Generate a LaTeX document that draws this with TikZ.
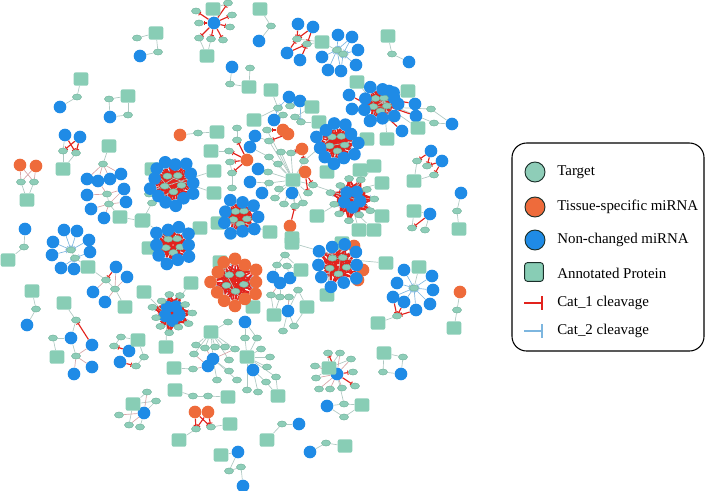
\documentclass[tikz,border=0pt]{standalone}
\usepackage{fontspec}
\setmainfont{Liberation Serif}
\usetikzlibrary{arrows.meta,shapes.geometric}
\pgfdeclarelayer{bg}
\pgfsetlayers{bg,main}
\definecolor{NetTarget}{HTML}{8ECDB8}
\definecolor{NetTargetLine}{HTML}{6DAF98}
\definecolor{NetProtein}{HTML}{88CDB5}
\definecolor{NetBlue}{HTML}{1F8BE6}
\definecolor{NetOrange}{HTML}{EE6B3B}
\definecolor{NetRed}{HTML}{E2231D}
\definecolor{NetSky}{HTML}{7DB6DF}
\definecolor{NetGrey}{HTML}{AFC8C2}
\definecolor{NetPink}{HTML}{D6A4A7}
\definecolor{NetInk}{HTML}{1B2F2A}

% dense miRNA cluster: name, cx, cy, ring count, radius, ring style, core style
\newcommand{\mircluster}[7]{%
  \foreach \k in {1,...,5}
    \node[#7] (#1c\k) at ([shift={(#2,#3)}]{\k*72+15}:{#5*0.42}) {};
  \foreach \i in {1,...,#4}
    \node[#6] (#1r\i) at ([shift={(#2,#3)}]{\i*360/#4}:{#5+2.5*sin(\i*137)}) {};
  \begin{pgfonlayer}{bg}
    \foreach \i in {1,...,#4}{
      \pgfmathtruncatemacro{\ko}{mod(\i+3,#4)+1}
      \draw[cat2] (#1r\i) -- (#1r\ko);
    }
    \foreach \i in {1,...,#4}
      \foreach \k in {1,...,5}
        \draw[cat1,line width=1.1pt] (#1r\i) -- (#1c\k);
    \foreach \k/\m in {1/3, 2/4, 3/5, 4/1, 5/2}
      \draw[cat1,line width=1.1pt] (#1c\k) -- (#1c\m);
  \end{pgfonlayer}
}

\begin{document}
\begin{tikzpicture}[x=0.75pt,y=-0.75pt,
    tgt/.style={ellipse,draw=NetTargetLine,line width=.3pt,fill=NetTarget,
      minimum width=6.8pt,minimum height=4.6pt,inner sep=0pt},
    mirb/.style={circle,fill=NetBlue,minimum size=9.5pt,inner sep=0pt},
    mirt/.style={circle,fill=NetOrange,minimum size=9.5pt,inner sep=0pt},
    prot/.style={rectangle,rounded corners=1.5pt,fill=NetProtein,
      minimum width=11pt,minimum height=10pt,inner sep=0pt},
    edge/.style={draw=NetGrey,line width=.5pt},
    weak/.style={draw=NetPink,line width=.5pt},
    cat1/.style={draw=NetRed,line width=.85pt,-{Bar[width=3.2pt,line width=.7pt]}},
    cat2/.style={draw=NetSky,line width=.5pt,-{Bar[width=3pt,line width=.45pt]}},
    key/.style={circle,draw=NetInk,line width=.7pt,minimum size=15pt,inner sep=0pt},
    keytext/.style={anchor=west,font=\fontsize{11.2}{13}\selectfont,inner sep=0pt}
  ]
  \useasboundingbox (0,0) rectangle (709,490);

  % targets
  \foreach \n/\x/\y in {a1/196/11, a2/199/23, a3/199/38, a4/211/39, a5/223/40, a6/230/27, a7/232/15, a8/228/3,
      b1/137/38, b2/158/52, c1/77/97, d1/109/99, d2/128/115, e1/63/151, e2/76/153, f1/21/182, f2/34/182,
      g1/103/164, g2/107/194, g3/109/204, h1/149/194, h2/152/203,
      i1/24/247, j1/71/250, j2/75/258, k1/106/280, k2/115/289, l1/36/309, m1/76/320, m2/53/338, m3/76/356,
      n1/121/337, n2/114/346, n3/144/357, n4/136/366,
      o1/228/322, o2/196/345, o3/205/348, o4/215/347, o5/225/347, o6/235/349, o7/194/354, o8/193/369,
      o9/229/360, o10/229/371, o11/217/380, o12/237/380,
      p1/193/396, p2/208/396, q1/196/429, q2/211/427,
      r1/147/392, r2/156/401, r3/119/415, r4/129/425, r5/140/427, s1/229/471, s2/241/467,
      t1/245/338, t2/257/338, t3/261/349, t4/270/357, t5/267/367, t6/276/377, t7/266/382, t8/258/392, t9/247/390,
      u1/328/353, u2/340/353, u3/351/359, u4/353/372, u5/355/386, u6/342/388, u7/330/389, u8/319/389,
      u9/316/378, u10/315/366, u11/344/404, u12/344/417,
      v1/403/357, v2/383/372, w1/282/424, x1/326/443, z1/457/310, st0/414/288, st1/397/316,
      ca1/277/265, ca2/285/255, ca3/287/266, ca4/298/290, ca5/271/295, ca6/280/297, ca7/289/297, ca8/283/331, ca9/294/326,
      tb1/271/26, tc1/297/39, tc2/307/44, td1/337/50, td2/343/54, te1/392/54, tf1/250/68, tf2/230/84,
      ts1/278/108, ts2/283/115, ts3/295/117, ts4/301/122, ts5/290/106,
      to1/431/109, to2/434/123, to3/388/118, tg1/417/161, tg2/427/166, tg3/434/175, th1/457/211, ti1/412/228, ti2/425/230,
      hb1/269/183, hb2/279/189, hb3/275/198, hb4/284/204, hb5/295/206, hb6/303/203, hb7/308/193, hb8/313/185,
      hb9/304/161, hb10/291/153, hb11/281/152, hb12/278/164, hb13/268/172, hb14/269/157, hb15/269/141, hb16/267/130,
      lf1/198/133, lf2/237/128, lf3/237/140, lf4/229/151, lf5/230/162, lf6/232/173, lf7/232/188}
    \node[tgt] (\n) at (\x,\y) {};

  % non-changed miRNAs
  \foreach \n/\x/\y in {a0/214/23, bb/140/56, cb/60/107, db/110/117, eb1/65/135, eb2/80/137,
      gb1/87/179, gb2/98/181, gb3/110/179, gb4/121/174, gb5/124/189, gb6/126/202, gb7/87/195, gb8/91/209, gb9/104/218,
      ib/25/229, jb1/64/230, jb2/77/231, jb3/53/242, jb4/89/240, jb5/52/255, jb6/90/252, jb7/61/268, jb8/74/269,
      kb1/116/267, kb2/127/277, kb3/93/292, kb4/105/302, lb/27/325, mb1/71/338, mb2/92/345, mb3/92/367, mb4/74/374,
      nb1/129/351, nb2/120/362, ob1/213/359, ob2/208/366, rb/144/413, sb1/238/452, sb2/243/486,
      tb/253/370, tb0/245/322, ub1/337/374, ub2/327/406, vb/401/374, wb/299/424, xb/310/452,
      stb1/404/270, stb2/397/283, stb3/432/276, stb4/433/290, stb5/430/304, stb6/416/310, stb7/404/302, stb8/393/297,
      cab1/273/277, cab2/280/283, cab3/290/278, cab4/288/311,
      tbb/259/41, tcb1/298/24, tcb2/313/27, tcb3/287/53, tcb4/300/60,
      tdb1/338/35, tdb2/352/37, tdb3/358/50, tdb4/356/65, tdb5/341/71, tdb6/328/70, tdb7/322/57,
      teb/409/62, tfb/232/67, tsb1/289/97, tsb2/300/101, tsb3/274/120,
      hbb1/292/193, hbb2/262/193, hbb3/250/182, hbb4/258/169, hbb5/250/147, hbb6/255/136,
      tob/452/124, tgb1/431/151, tgb2/442/161, thb/461/193, tib/430/214,
      ocb1/349/95, ocb2/352/109, ocb3/370/121, ocb4/415/104, ocb5/416/116, ocb6/402/131,
      ocb7/389/91, ocb8/394/98}
    \node[mirb] (\n) at (\x,\y) {};

  % tissue-specific miRNAs
  \foreach \n/\x/\y in {fo1/20/165, fo2/36/166, qo1/195/412, qo2/208/412, lfo/180/135,
      ho1/283/130, ho2/288/134, ho3/302/149, ho4/305/172, ho5/290/226, ho6/247/160, zo/460/292,
      qmo1/363/270, qmo2/358/280, qmo3/354/246}
    \node[mirt] (\n) at (\x,\y) {};

  % annotated proteins
  \foreach \n/\x/\y in {ap1/213/9, ap2/207/56, bp/156/33, cp/81/79, dp/128/96, ep/63/169, fp/27/200,
      gp1/109/146, gp2/120/217, gp3/142/221, hp1/152/169, hp2/214/171, hp3/214/193,
      ip/8/260, jp/88/267, kp/125/307, lp/32/291, mp1/64/303, mp2/57/357, np/138/340,
      rcp1/144/292, rcp2/191/283, rcp3/166/347, op/211/332, op2/174/368, pp1/175/390, pp2/228/397,
      qp1/230/424, qp2/179/440, rp/133/404, sp/221/455,
      tp/247/357, tp2/278/396, up/329/368, up2/362/405, vp/384/353, wp/267/440, xp/345/446, zp/454/328,
      stp1/419/267, stp2/378/323, cap1/301/270, cap2/307/307, cap3/274/315,
      qcp1/342/243, qcp2/327/295, qcp3/386/263, qcp4/292/243, mcp1/220/262, mcp2/253/307,
      kcp1/218/223, kcp2/270/232, lcp1/200/228, lcp2/149/248, lcp3/143/220,
      tbp/260/9, tcp/322/42, tep/388/36, tfp/249/87, tfp2/271/90, tsp1/312/107, tsp2/319/122, tsp3/254/120,
      ncp1/327/172, ncp2/367/139, ocp1/357/82, ocp2/408/91, ocp3/418/128, ocp4/387/139,
      tgp/414/181, thp/459/229, tip/414/211,
      pcp1/360/170, pcp2/374/166, pcp3/382/183, pcp4/317/216, pcp5/382/216, pcp6/359/230, pcp7/374/230,
      hub/293/180, hubp2/292/238, lfp1/217/132, lfp2/211/151}
    \node[prot] (\n) at (\x,\y) {};

  % dense clusters
  \mircluster{hc}{173}{183}{13}{21}{mirb}{tgt}
  \mircluster{kc}{240}{217}{9}{17}{mirb}{tgt}
  \mircluster{lc}{173}{245}{10}{18}{mirb}{tgt}
  \mircluster{mc}{235}{282}{12}{22}{mirt}{tgt}
  \mircluster{nc}{337}{143}{11}{19}{mirb}{tgt}
  \mircluster{oc}{380}{104}{9}{17}{mirb}{tgt}
  \mircluster{pc}{352}{199}{11}{20}{tgt}{mirb}
  \mircluster{qc}{338}{265}{10}{21}{mirb}{tgt}
  \mircluster{rc}{172}{313}{11}{18}{tgt}{mirb}

  \begin{pgfonlayer}{bg}
    \foreach \a/\b in {ap1/a0, ap2/a3, ap2/a4, a8/ap1, bp/b1, bp/b2, b2/bb, cp/c1, c1/cb,
        d1/dp, dp/d2, d2/db, d1/db, eb1/e1, e1/ep, e2/ep, f1/fp, f2/fp,
        gp1/g1, g2/g3, g3/gp2, gp2/gp3, gp3/h2, hp1/hcc1, hp2/hcc2, hp3/hcc3, h1/hcc4, h2/hcc5, h1/hp1,
        ib/i1, i1/ip, j1/j2, j2/jp, jp/k1, k1/k2, k2/kp, lp/l1, lb/l1,
        mp1/m1, m1/mb1, m2/mp2, m2/mb1, mb1/m3, np/n1, np/n3, n1/n2, n3/n4,
        rcp1/rcc1, rcp2/rcc2, rcp3/rcc3,
        op/o1, op/o2, op/o3, op/o4, op/o5, op/o6, op/o7, op/o9, op/ob1, o10/ob1, o11/ob1, o12/ob1, o8/op2,
        pp1/p1, p1/p2, p2/pp2, q1/qp2, q2/qp1, rp/r1, rp/r2, rp/r4, rb/r2, rb/r5,
        sp/sb1, sb1/s1, s1/s2, s2/sb2,
        tp/t1, tp/t2, tp/t3, tp/t4, tp/t5, tp/t6, tp/t9, tb0/t1, tb0/t2, t6/tp2, t7/tp2, tb/t7, tb/t8,
        up/u1, up/u2, up/u3, up/u9, up/u10, ub1/u11, u11/up2, ub2/u11, ub2/u12, u12/up2,
        vp/v1, v1/vb, vp/v2, v2/vb, w1/wp, w1/wb, xb/x1, x1/xp, zo/z1, z1/zp,
        st0/stp1, st1/stp2,
        cab1/ca1, ca1/ca2, ca2/cap1, ca3/cap1, cab3/ca3, ca4/cap2, cab2/ca6, ca5/cap3, ca6/cap3,
        ca7/cab4, cab4/ca8, cab4/ca9, ca4/cab4, ca9/cap2,
        tbp/tb1, tb1/tbb, tc1/tcp, tc2/tcp, td2/tcp, tep/te1, te1/teb, tfb/tf2, tf1/tfp, tf2/tfp,
        tsp1/ts3, tsp2/ts4, tsp3/ts1, tfp2/ts1,
        ocp1/occ1, ocp2/occ2, ocp3/occ3, ocp4/occ4, to1/tob, to2/tob, to1/occ2, to2/occ3, to3/occ4,
        tg1/tgp, tg3/tgp, thb/th1, th1/thp, tip/ti1, tib/ti2, tip/tib,
        pcp1/pcc1, pcp2/pcc2, pcp3/pcc3, pcp4/pcc4, pcp5/pcc5, pcp6/pcc1, pcp7/pcc2,
        hub/hb1, hub/hb2, hub/hb3, hub/hb4, hub/hb5, hub/hb6, hub/hb7, hub/hb8,
        hub/hb9, hub/hb10, hub/hb11, hub/hb12, hub/hb13, hub/hb14, hub/hb15, hub/hb16,
        hbb1/hb5, hbb2/hb1, hbb3/hb1, hbb4/hb13, hbb5/hb14, hbb6/hb15,
        lfo/lf1, lf1/lfp1, lfp2/lf4, lf2/lf3, lf5/lf6, lf6/lf7,
        kcp1/kcc1, kcp2/kcc2, ho5/hubp2, lcp1/lcc1, lcp2/lcc2, lcp3/lcc3, mcp1/mcc1, mcp2/mcc2,
        ncp1/ncc1, ncp2/ncc2, ncc3/hb9, qcp1/qcc1, qcp2/qcc2, qcp3/qcc3, qcp4/qcc4, pcc5/hb8}
      \draw[edge] (\a) -- (\b);
    \foreach \a/\b in {fo1/f1, fo1/f2, fo2/f1, fo2/f2,
        gb1/g1, gb2/g1, gb3/g1, gb4/g1, gb5/g2, gb6/g3, gb7/g2, gb8/g3, gb9/g3, gb5/g3, gb2/g2,
        kb2/k2, kb3/k1, kb4/k2, kb1/k2, mb3/m3, mb4/m3, mb2/m3,
        ub1/u2, ub1/u3, ub1/u6, ub1/u7, ub1/u8, ub1/u9, ub1/u10,
        rb/r1, rb/r3, rb/r4, ob1/o3, ob2/o7, ob2/o8, ob1/o6, cab2/ca5, cab4/ca7}
      \draw[weak] (\a) -- (\b);
    \foreach \a/\b in {a0/a1, a0/a2, a0/a3, a0/a4, a0/a5, a0/a6, a0/a7, a0/a8,
        eb1/e2, eb2/e1, eb2/e2,
        tcb1/tc1, tcb2/tc1, tcb2/tc2, tcb3/tc1, tcb4/tc2, tcb3/tc2,
        stb8/st1, stb7/st1, stb6/st1, tgb1/tg1, tgb1/tg2, tgb2/tg2, tgb2/tg3, tib/ti1,
        ho6/lf3, ho6/lf4, ho6/lf5, ho6/lf6,
        ho1/hb16, ho2/hb15, ho3/hb9, ho3/hb10, ho4/hb7, ho4/hb8, ho5/hb5,
        nb1/n2, nb2/n4, qo1/q1, qo1/q2, qo2/q1, qo2/q2, ub1/u4, ub1/u5, ub1/u1, mb2/m1, kb1/k1,
        qmo1/qcc1, qmo2/qcc2, qmo3/qcc3, qmo1/qcc4,
        ocb1/occ1, ocb2/occ2, ocb3/occ3, ocb4/occ4, ocb5/occ5, ocb6/occ1, ocb7/occ2, ocb8/occ3}
      \draw[cat1] (\a) -- (\b);
    \foreach \a/\b in {tdb1/td1, tdb2/td1, tdb3/td2, tdb4/td2, tdb5/td1, tdb6/td1, tdb7/td1, tdb2/td2, tdb5/td2,
        tsb1/ts5, tsb2/ts5, tsb3/ts2, tsb1/ts1, tsb2/ts4, tsb3/ts1,
        stb1/st0, stb2/st0, stb3/st0, stb4/st0, stb5/st0, stb6/st0, stb7/st0, stb8/st0,
        jb1/j1, jb2/j1, jb3/j1, jb4/j1, jb5/j1, jb6/j2, jb7/j2, jb8/j2}
      \draw[cat2] (\a) -- (\b);
  \end{pgfonlayer}

  % legend
  \node[draw=black,line width=.8pt,rounded corners=11pt,minimum width=144pt,minimum height=156pt] (legend) at (608,247) {};
  \node[key,fill=NetTarget] (kTarget) at (535,172) {};
  \node[keytext] (lTarget) at (557,172) {Target};
  \node[key,fill=NetOrange] (kTissue) at (535,207) {};
  \node[keytext] (lTissue) at (557,207) {Tissue-specific miRNA};
  \node[key,fill=NetBlue] (kStable) at (535,240) {};
  \node[keytext] (lStable) at (557,240) {Non-changed miRNA};
  \node[key,rectangle,rounded corners=2pt,fill=NetProtein,minimum size=14pt] (kProtein) at (534,272) {};
  \node[keytext] (lProtein) at (557,273) {Annotated Protein};
  \coordinate (kCatA1) at (524,303);
  \coordinate (kCatA2) at (543,303);
  \draw[draw=NetRed,line width=1.4pt,-{Bar[width=10pt,line width=1.4pt]}] (kCatA1) -- (kCatA2);
  \node[keytext] (lCatA) at (557,303) {Cat\_1 cleavage};
  \coordinate (kCatB1) at (524,331);
  \coordinate (kCatB2) at (543,331);
  \draw[draw=NetSky,line width=1.4pt,-{Bar[width=10pt,line width=1.4pt]}] (kCatB1) -- (kCatB2);
  \node[keytext] (lCatB) at (557,331) {Cat\_2 cleavage};
\end{tikzpicture}
\end{document}
